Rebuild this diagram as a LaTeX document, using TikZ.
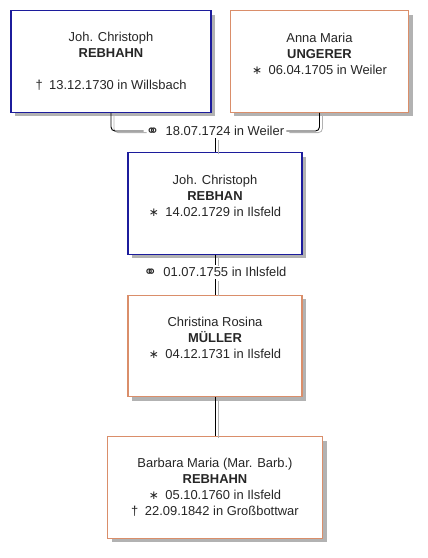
\documentclass[tikz,border=0pt]{standalone}
\usepackage{fontspec}
\setmainfont{Liberation Sans}
\newfontfamily\symfont{DejaVu Sans}
\usetikzlibrary{shadows}
\definecolor{manblue}{HTML}{1C1C9C}
\definecolor{womanorange}{HTML}{DA8E6A}
\newcommand{\born}{{\symfont\small ∗}\enspace}
\newcommand{\died}{†\enspace}
\newcommand{\wed}{\raisebox{-0.6pt}{\symfont\large ⚭}\enspace}

\begin{document}
\begin{tikzpicture}[x=0.75pt, y=-0.75pt,
      every node/.style={font=\fontsize{9.7}{11.9}\selectfont, text=black!85},
      person/.style={draw, line width=0.9pt, fill=white, align=center,
        inner sep=0pt, minimum height=76pt,
        drop shadow={shadow xshift=3pt, shadow yshift=-3pt, fill=black!30, opacity=1}},
      man/.style={person, draw=manblue},
      woman/.style={person, draw=womanorange},
      wedding/.style={fill=white, inner sep=1.5pt},
      link/.style={line width=0.7pt, rounded corners=3pt,
        preaction={draw=black!30, line width=0.6pt, transform canvas={shift={(2.2pt,-1.2pt)}}}},
    ]
    \useasboundingbox (0,0) rectangle (428,558);

    \node[man, minimum width=150pt] (p1) at (111, 61.5)
      {Joh. Christoph\\\textbf{REBHAHN}\\~\\\died 13.12.1730 in Willsbach};
    \node[woman, minimum width=134pt] (p2) at (319.5, 61.5)
      {Anna Maria\\\textbf{UNGERER}\\\born 06.04.1705 in Weiler\\~};
    \node[man, minimum width=130.5pt] (p3) at (215, 203.5)
      {Joh. Christoph\\\textbf{REBHAN}\\\born 14.02.1729 in Ilsfeld\\~};
    \node[woman, minimum width=130.5pt] (p4) at (215, 346)
      {Christina Rosina\\\textbf{MÜLLER}\\\born 04.12.1731 in Ilsfeld\\~};
    \node[woman, minimum width=161.25pt] (p5) at (215, 487.5)
      {Barbara Maria (Mar. Barb.)\\\textbf{REBHAHN}\\\born 05.10.1760 in Ilsfeld\\\died 22.09.1842 in Großbottwar};

    \node[wedding] (w1) at (215, 131) {\wed 18.07.1724 in Weiler};
    \node[wedding] (w2) at (215, 272) {\wed 01.07.1755 in Ihlsfeld};

    \draw[link] (p1.south) |- (w1.west);
    \draw[link] (w1.east) -| (p2.south);
    \draw[link] (w1.south) -- (p3.north);
    \draw[link] (p3.south) -- (w2.north);
    \draw[link] (w2.south) -- (p4.north);
    \draw[link] (p4.south) -- (p5.north);
  \end{tikzpicture}
\end{document}
